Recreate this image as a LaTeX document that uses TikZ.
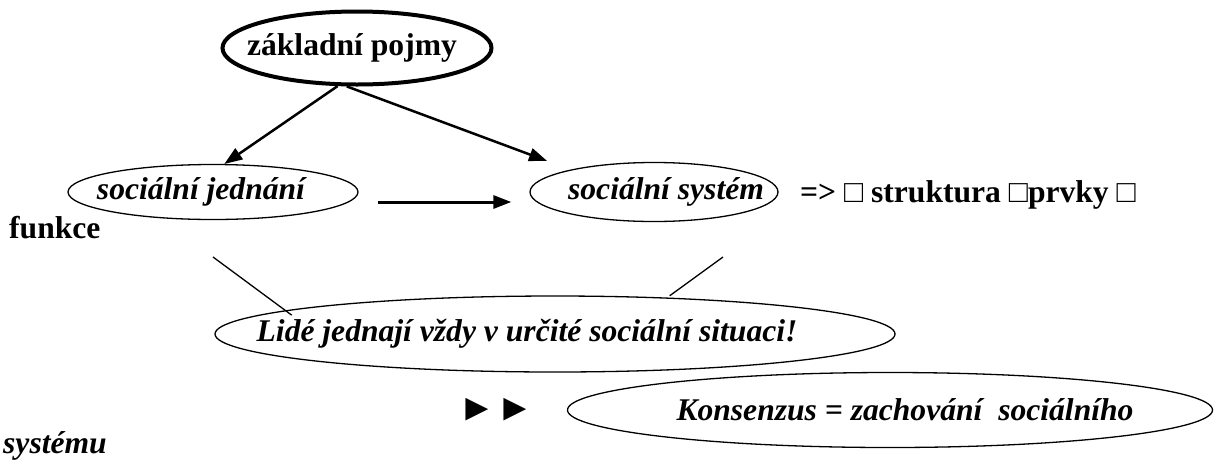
\documentclass[tikz,border=0pt]{standalone}
\usepackage{fontspec}
\setmainfont{Liberation Serif}
\usetikzlibrary{shapes.geometric, arrows.meta}

\tikzset{
  conceptoval/.style={ellipse, draw, line width=1.3pt, inner sep=0pt,
    font=\bfseries\itshape\fontsize{31.6}{36}\selectfont},
  bodytext/.style={inner sep=0pt, font=\bfseries\fontsize{31.6}{36}\selectfont},
  linkarrow/.style={-{Triangle[length=18pt,width=13pt]}, line width=2.5pt},
}
% text shifted sideways inside an oval, without widening it
\newcommand{\offtext}[2]{\makebox[0pt]{\kern#1\relax#2}}

\begin{document}
\begin{tikzpicture}[x=1pt, y=-1pt]
    \useasboundingbox (0,0) rectangle (1214,461);

    % Top concept
    \node[conceptoval, line width=4pt, font=\bfseries\fontsize{31.6}{36}\selectfont,
        minimum width=269pt, minimum height=73pt] (pojmy) at (357,48)
        {\offtext{-10pt}{základní pojmy}};

    % Second row
    \node[conceptoval, minimum width=290pt, minimum height=55pt] (jednani) at (213,192)
        {\offtext{-24pt}{sociální jednání}};
    \node[conceptoval, minimum width=248pt, minimum height=59pt] (system) at (654,192)
        {\offtext{24pt}{sociální systém}};
    \node[bodytext, anchor=base west] (prvky) at (800,202) {=> □ struktura □prvky □};
    \node[bodytext, anchor=base west] (funkce) at (9,238) {funkce};

    % Arrows from the top
    \draw[linkarrow] (pojmy.243) -- (jednani.68);
    \draw[linkarrow, shorten >=25pt] (pojmy.255) -- (system.165);
    \draw[linkarrow, line width=3pt, shorten <=19pt, shorten >=18pt]
        ([yshift=-10pt]jednani.east) -- ([yshift=-10pt]system.west);

    % Situation
    \node[conceptoval, minimum width=680pt, minimum height=76pt] (situace) at (555,334)
        {\offtext{-56pt}{Lidé jednají vždy v určité sociální situaci!}};
    \coordinate (jfoot) at (213,257);
    \coordinate (sfoot) at (723,257);
    \draw[line width=1.3pt, shorten >=-8pt] (jfoot) -- (situace.175);
    \draw[line width=1.3pt, shorten >=3pt] (sfoot) -- (situace.18);

    % Consensus
    \node[bodytext, font=\bfseries\fontsize{38}{40}\selectfont] (znaky) at (496,410) {►►};
    \node[conceptoval, minimum width=645pt, minimum height=75pt] (konsenzus) at (890,410)
        {\offtext{30pt}{Konsenzus = zachování\hspace{0.5em}sociálního}};
    \node[bodytext, font=\bfseries\itshape\fontsize{31.6}{36}\selectfont, anchor=base west]
        (systemu) at (3,453) {systému};
\end{tikzpicture}
\end{document}
